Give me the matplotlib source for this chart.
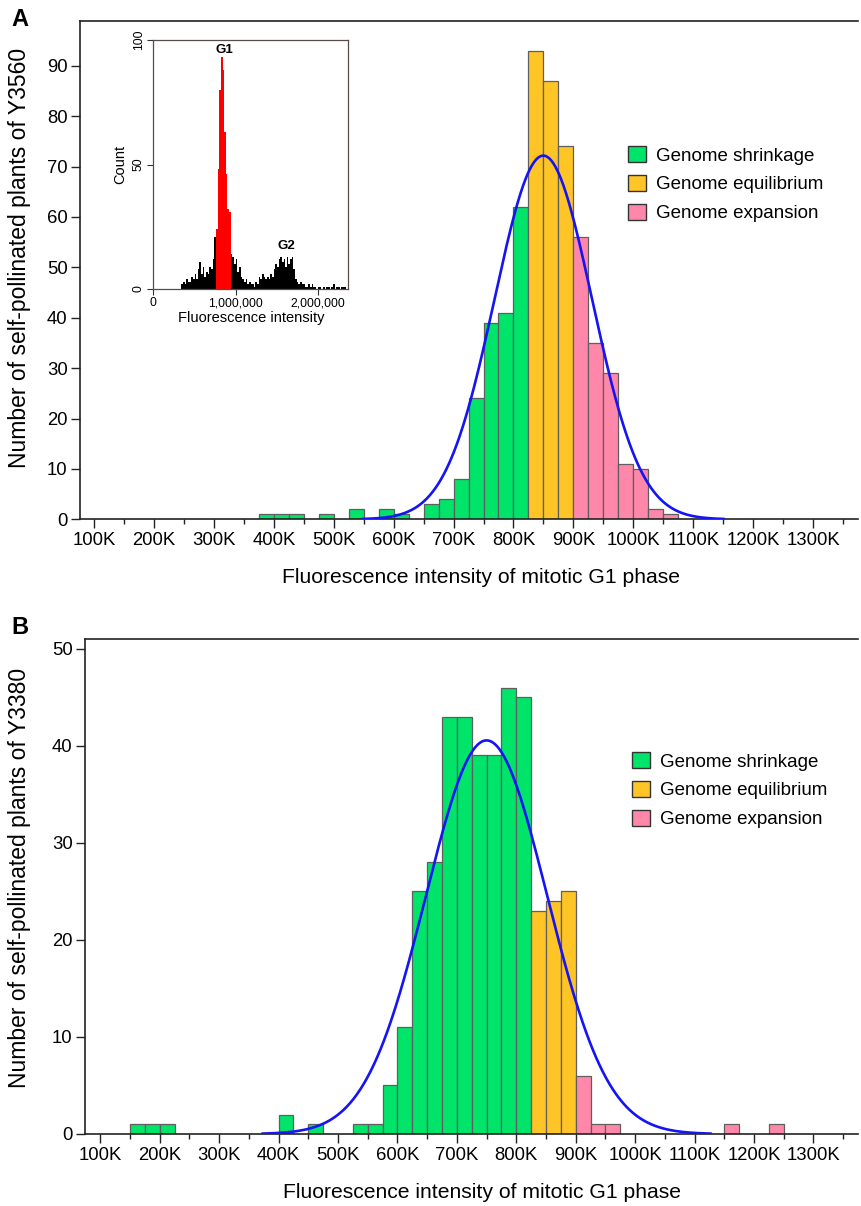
import numpy as np
import matplotlib
matplotlib.use("Agg")
import matplotlib.pyplot as plt
from matplotlib.patches import Patch
from matplotlib.ticker import MultipleLocator, FuncFormatter

plt.rcParams['font.family'] = ['Liberation Sans', 'DejaVu Sans']

# ---------------- data ----------------
BIN_W = 25000
# Panel A (Y3560): left edges of 25K bins and counts
a_edges = [375e3, 400e3, 425e3, 475e3, 525e3, 575e3, 600e3, 650e3, 675e3, 700e3,
           725e3, 750e3, 775e3, 800e3, 825e3, 850e3, 875e3, 900e3, 925e3, 950e3,
           975e3, 1000e3, 1025e3, 1050e3]
a_counts = [1, 1, 1, 1, 2, 2, 1, 3, 4, 8,
            24, 39, 41, 62, 93, 87, 74, 56, 35, 29,
            11, 10, 2, 1]
# Panel B (Y3380)
b_edges = [150e3, 175e3, 200e3, 400e3, 450e3, 525e3, 550e3, 575e3, 600e3, 625e3,
           650e3, 675e3, 700e3, 725e3, 750e3, 775e3, 800e3, 825e3, 850e3, 875e3,
           900e3, 925e3, 950e3, 1150e3, 1225e3]
b_counts = [1, 1, 1, 2, 1, 1, 1, 5, 11, 25,
            28, 43, 43, 39, 39, 46, 45, 23, 24, 25,
            6, 1, 1, 1, 1]
# class thresholds
SHRINK_MAX = 825e3
EQUIL_MAX = 900e3
categories = ["Genome shrinkage", "Genome equilibrium", "Genome expansion"]
cat_colors = ["#00E46A", "#FFC425", "#FF88AA"]

# Inset flow-cytometry histogram (20K bins starting at 340K)
inset_start = 340e3
inset_w = 20e3
inset_counts = [2, 3, 2, 4, 3, 3, 5, 4, 6, 4, 8, 11, 6, 9, 5, 7, 6, 9, 8, 12, 21,
                24, 48, 80, 93, 88, 63, 46, 32, 31,
                14, 13, 10, 12, 7, 9, 5, 4, 3, 4,
                2, 3, 2, 2, 1, 3, 2, 5, 4, 6,
                5, 4, 5, 4, 6, 5, 8, 10, 9, 12,
                13, 11, 12, 9, 13, 10, 12, 13, 8, 4,
                3, 2, 3, 2, 2, 1, 1, 2, 1, 2,
                1, 1, 0, 1, 1, 0, 1, 0, 1, 1,
                0, 1, 2, 0, 1, 1, 0, 1, 1, 1]
G1_LO, G1_HI = 760e3, 940e3

# ---------------- figure ----------------
W, H = 862, 1206
fig = plt.figure(figsize=(W / 100, H / 100), dpi=100)


def px_axes(l, t, r, b):
    return fig.add_axes([l / W, 1 - b / H, (r - l) / W, (b - t) / H])


def klabel(v, pos):
    return "%dK" % int(round(v / 1000))


def draw_panel(ax, edges, counts, xlim, ylim, yticks, ylabel, lbl_xy, xlab_xy):
    edges = np.asarray(edges)
    counts = np.asarray(counts)
    cols = [cat_colors[0] if e < SHRINK_MAX else (cat_colors[1] if e < EQUIL_MAX else cat_colors[2])
            for e in edges]
    ax.bar(edges, counts, width=BIN_W, align='edge', color=cols,
           edgecolor='#5f5f5f', linewidth=0.9, zorder=2)
    # normal fit from the data
    centers = edges + BIN_W / 2
    n = counts.sum()
    mu = (centers * counts).sum() / n
    sd = np.sqrt(((centers - mu) ** 2 * counts).sum() / n)
    xs = np.linspace(mu - 3.7 * sd, mu + 3.7 * sd, 400)
    ys = n * BIN_W / (sd * np.sqrt(2 * np.pi)) * np.exp(-0.5 * ((xs - mu) / sd) ** 2)
    ax.plot(xs, ys, color='#1414F5', lw=1.9, zorder=3)

    ax.set_xlim(*xlim)
    ax.set_ylim(*ylim)
    ax.set_xticks(np.arange(100e3, 1300e3 + 1, 100e3))
    ax.xaxis.set_major_formatter(FuncFormatter(klabel))
    ax.xaxis.set_minor_locator(MultipleLocator(50e3))
    ax.set_yticks(yticks)
    ax.tick_params(axis='both', which='major', length=6.5, width=1.0, labelsize=13.3, color='#222222', pad=2.5)
    ax.tick_params(axis='x', which='minor', length=3.6, width=1.0, color='#222222')
    for s in ['left', 'bottom', 'top']:
        ax.spines[s].set_linewidth(1.2)
        ax.spines[s].set_color('#222222')
    ax.spines['right'].set_visible(False)
    ax.set_ylabel(ylabel, fontsize=16.5)
    ax.yaxis.set_label_coords(*lbl_xy)
    ax.set_xlabel("Fluorescence intensity of mitotic G1 phase", fontsize=15.2)
    ax.xaxis.set_label_coords(*xlab_xy)


# Panel A
axA = px_axes(80, 21, 858, 519.3)
draw_panel(axA, a_edges, a_counts, (76.6e3, 1375e3), (0, 98.9), range(0, 91, 10),
           "Number of self-pollinated plants of Y3560", (-0.063, 0.524), (0.516, -0.097))
# Panel B
axB = px_axes(85, 639, 858, 1134)
draw_panel(axB, b_edges, b_counts, (74.4e3, 1375e3), (0, 51), range(0, 51, 10),
           "Number of self-pollinated plants of Y3380", (-0.0699, 0.517), (0.513, -0.099))

# Legends
handles = [Patch(facecolor=c, edgecolor='#333333', linewidth=1.0, label=l)
           for c, l in zip(cat_colors, categories)]
for ax, (lx, ty) in [(axA, (627.7, 146)), (axB, (631.7, 752)), ]:
    ax.legend(handles=handles, loc='upper left', bbox_to_anchor=(lx / W, 1 - ty / H),
              bbox_transform=fig.transFigure, frameon=False, fontsize=13.5,
              handlelength=0.95, handleheight=0.95, handletextpad=0.55,
              labelspacing=0.55, borderpad=0, borderaxespad=0)

# Panel letters
fig.text(20 / W, 1 - 20 / H, "A", fontsize=17, fontweight='bold', ha='center', va='center')
fig.text(19.5 / W, 1 - 627.5 / H, "B", fontsize=17, fontweight='bold', ha='center', va='center')

# Inset
axI = px_axes(153.3, 40, 348.3, 289)
ie = inset_start + inset_w * np.arange(len(inset_counts))
icol = ['#FF0000' if (G1_LO <= e < G1_HI) else '#000000' for e in ie]
axI.bar(ie, inset_counts, width=inset_w, align='edge', color=icol, linewidth=0)
axI.set_xlim(0, 2.366e6)
axI.set_ylim(0, 100)
axI.set_xticks([0, 1e6, 2e6])
axI.set_xticklabels(["0", "1,000,000", "2,000,000"])
axI.set_yticks([0, 50, 100])
axI.set_yticklabels(["0", "50", "100"], rotation=90, va='center')
axI.tick_params(axis='both', length=4, width=0.8, labelsize=8.8, pad=2, color='#333333')
for s in axI.spines.values():
    s.set_linewidth(0.9)
    s.set_color('#5a4a4a')
axI.set_xlabel("Fluorescence intensity", fontsize=10.5, labelpad=1)
axI.set_ylabel("Count", fontsize=10.5, labelpad=4)
axI.text(0.86e6, 93.5, "G1", fontsize=9.5, fontweight='bold', ha='center', va='bottom')
axI.text(1.62e6, 15, "G2", fontsize=9.5, fontweight='bold', ha='center', va='bottom')

fig.savefig("out.png", dpi=100)
